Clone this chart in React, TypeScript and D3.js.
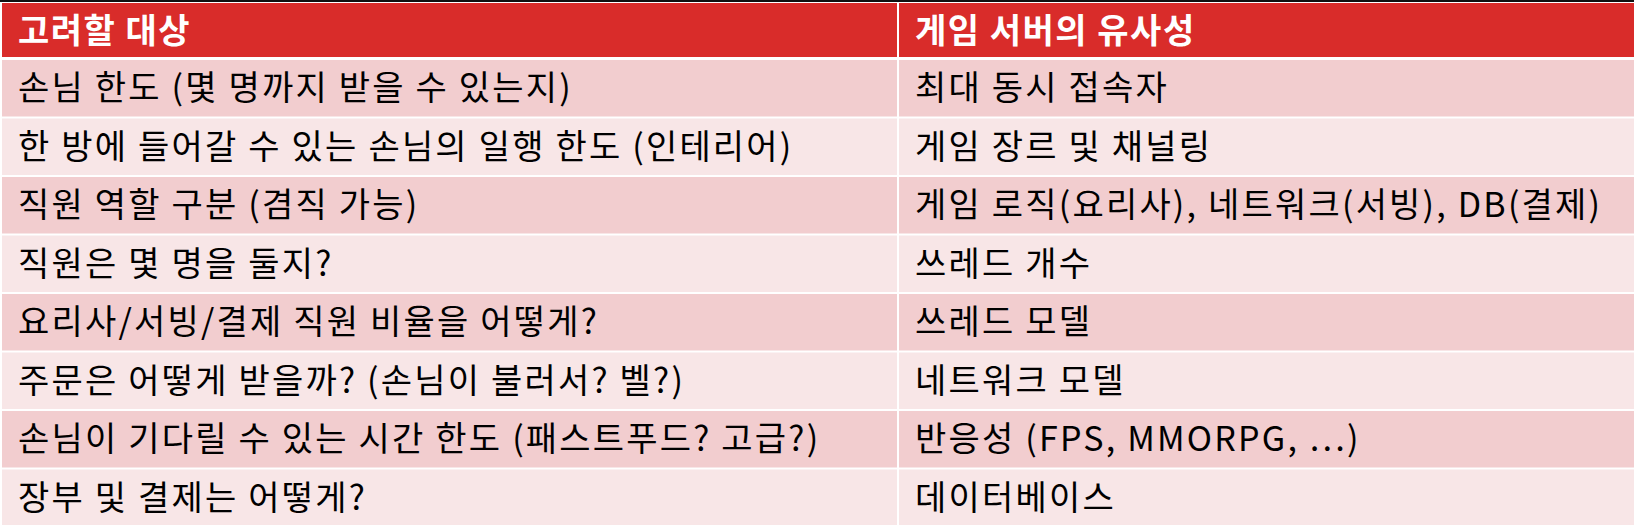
import React from "react";
import * as d3 from "d3";

const headers = ["고려할 대상", "게임 서버의 유사성"];
const considerations = [
  "손님 한도 (몇 명까지 받을 수 있는지)",
  "한 방에 들어갈 수 있는 손님의 일행 한도 (인테리어)",
  "직원 역할 구분 (겸직 가능)",
  "직원은 몇 명을 둘지?",
  "요리사/서빙/결제 직원 비율을 어떻게?",
  "주문은 어떻게 받을까? (손님이 불러서? 벨?)",
  "손님이 기다릴 수 있는 시간 한도 (패스트푸드? 고급?)",
  "장부 및 결제는 어떻게?",
];
const similarities = [
  "최대 동시 접속자",
  "게임 장르 및 채널링",
  "게임 로직(요리사), 네트워크(서빙), DB(결제)",
  "쓰레드 개수",
  "쓰레드 모델",
  "네트워크 모델",
  "반응성 (FPS, MMORPG, …)",
  "데이터베이스",
];

const W = 1634;
const H = 525;

export default function App() {
  const top = 3;
  const headerH = 56;
  const x = d3.scaleOrdinal<number, number>().domain([0, 1]).range([2, 899]);
  const colEnd = [897, W];
  const rows = d3
    .scaleBand<number>()
    .domain(d3.range(considerations.length))
    .range([top + headerH, H + 2])
    .paddingInner(0);
  const font = "'Noto Sans CJK KR', 'Noto Sans', sans-serif";

  return (
    <svg
      width={W}
      height={H}
      style={{ position: "fixed", left: 0, top: 0, background: "#fff" }}
    >
      <rect x={0} y={0} width={W} height={2} fill="#111" />
      {headers.map((h, i) => (
        <g key={h}>
          <rect
            x={x(i)}
            y={top}
            width={colEnd[i] - x(i)}
            height={headerH - 2}
            fill="#D92C2A"
          />
          <text
            x={x(i) + 16}
            y={top + headerH / 2}
            dy="0.36em"
            fill="#fff"
            fontWeight="bold"
            fontSize={34}
            letterSpacing={1.5}
            fontFamily={font}
          >
            {h}
          </text>
        </g>
      ))}
      {considerations.map((c, r) => {
        const y0 = rows(r)!;
        const fill = r % 2 === 0 ? "#F2CDCF" : "#F8E6E7";
        return (
          <g key={r}>
            {[c, similarities[r]].map((t, i) => (
              <g key={i}>
                <rect
                  x={x(i)}
                  y={y0 + 1}
                  width={colEnd[i] - x(i)}
                  height={rows.bandwidth() - 2}
                  fill={fill}
                />
                <text
                  x={x(i) + 16}
                  y={y0 + rows.bandwidth() / 2}
                  dy="0.36em"
                  fill="#000"
                  fontSize={34}
                  letterSpacing={2.2}
                  fontFamily={font}
                >
                  {t}
                </text>
              </g>
            ))}
          </g>
        );
      })}
    </svg>
  );
}
